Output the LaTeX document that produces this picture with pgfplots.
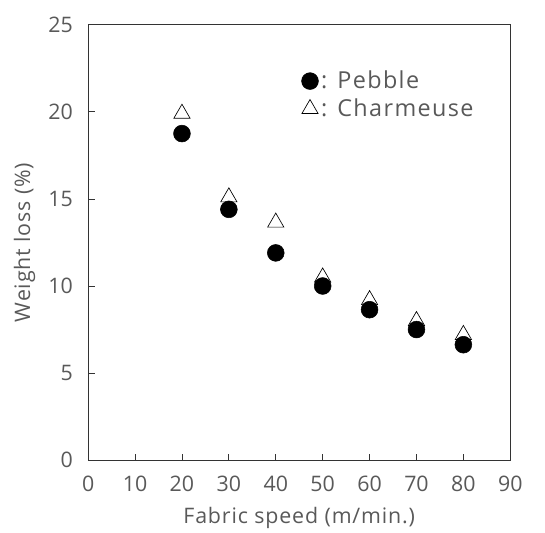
\documentclass[border=0pt]{standalone}
\usepackage{fontspec}
\setmainfont{Open Sans}
\usepackage{pgfplots}
\pgfplotsset{compat=1.18}

\begin{document}
\begin{tikzpicture}
\begin{axis}[
  scale only axis,
  width=316pt, height=326pt,
  xmin=0, xmax=90, ymin=0, ymax=25,
  xtick={0,10,...,90}, ytick={0,5,...,25},
  tick align=inside,
  xtick pos=bottom, ytick pos=left,
  major tick length=5pt,
  axis line style={black!80, line width=0.6pt},
  tick style={black!80, line width=0.6pt},
  every tick label/.append style={font=\fontsize{16}{19}\selectfont, text=black!65},
  /pgf/number format/assume math mode=true,
  xticklabel style={yshift=-8pt},
  yticklabel style={xshift=-8pt},
  xlabel={Fabric speed (m/min.)},
  ylabel={Weight loss (\%)},
  label style={font=\fontsize{16}{19}\selectfont\addfontfeatures{LetterSpace=4}, text=black!65},
  xlabel style={yshift=-5pt},
  ylabel style={yshift=3pt},
  legend style={draw=none, fill=none, at={(0.505,0.9)}, anchor=north west,
    font=\fontsize{17.5}{21}\selectfont\addfontfeatures{LetterSpace=6}, text=black!65,
    row sep=2pt, inner sep=0pt},
  legend cell align=left,
  legend image code/.code={\draw[#1] (0.15cm,0) plot coordinates {(0.15cm,0)};},
]
\addplot[only marks, mark=*, mark size=6.3pt, black, fill=black]
  coordinates {(20,18.75) (30,14.4) (40,11.9) (50,10.0) (60,8.64) (70,7.5) (80,6.63)};
\addlegendentry{: Pebble}
\addplot[only marks, mark=triangle, mark size=7pt, black, line width=0.5pt]
  coordinates {(20,19.9) (30,15.1) (40,13.65) (50,10.5) (60,9.2) (70,8.0) (80,7.2)};
\addlegendentry{: Charmeuse}
\end{axis}
% page margins as in the scan
\path ([xshift=26pt,yshift=18.5pt]current axis.north east);
\path ([xshift=-66pt,yshift=-52pt]current axis.south west);
\end{tikzpicture}
\end{document}
